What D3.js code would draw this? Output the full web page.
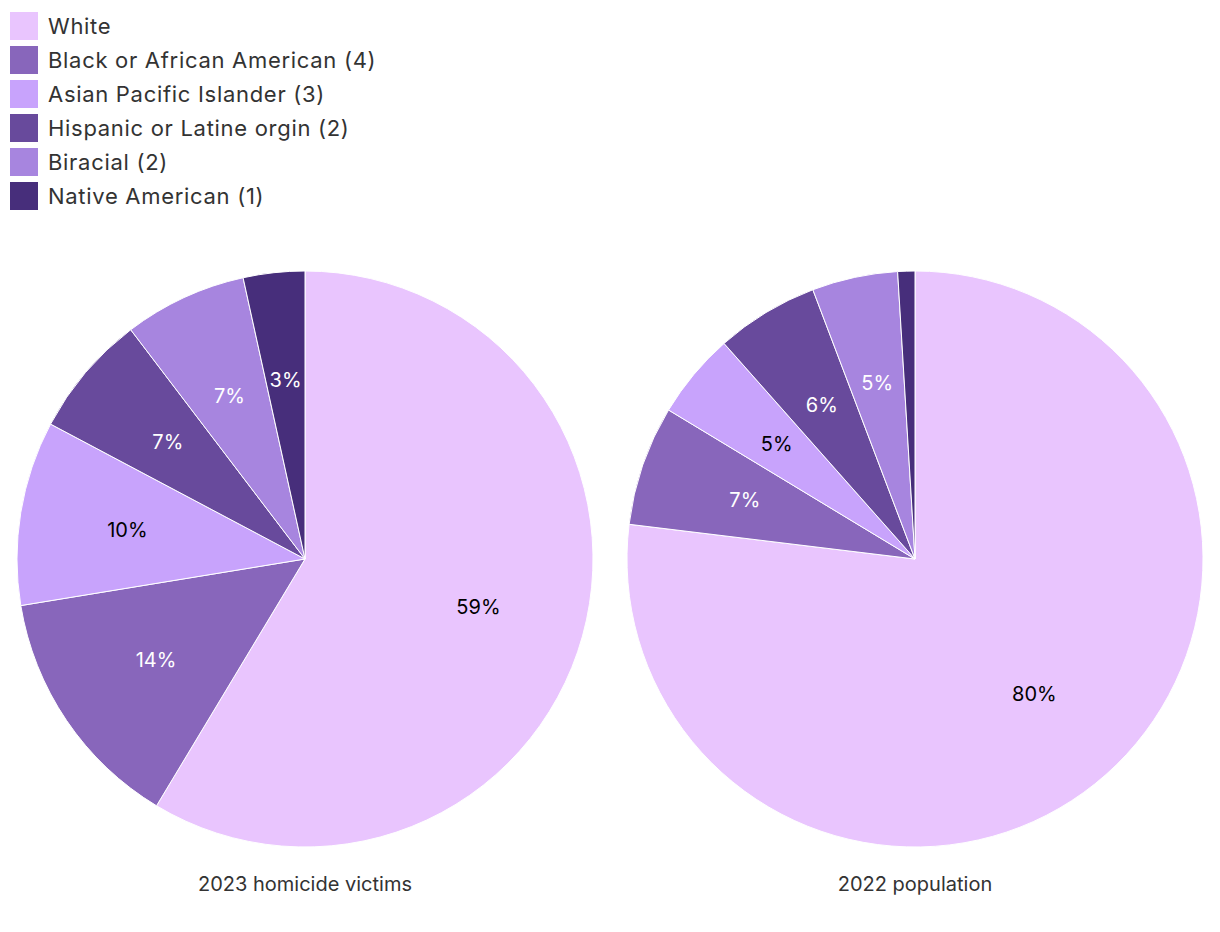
<!DOCTYPE html>
<html><head><meta charset="utf-8">
<script src="https://cdn.jsdelivr.net/npm/d3@7"></script>
<style>body{margin:0;background:#fff;} svg{display:block;}</style>
</head><body>
<svg id="chart" width="1220" height="932"></svg>
<script>
const categories = ["White","Black or African American (4)","Asian Pacific Islander (3)","Hispanic or Latine orgin (2)","Biracial (2)","Native American (1)"];
const colors = ["#e9c5fe","#8866bb","#c8a3fc","#684a9c","#a785df","#472e7b"];
const labelColors = ["#000","#fff","#000","#fff","#fff","#fff"];
// 2023 homicide victims (counts; labels show share of total)
const victims2023 = [17,4,3,2,2,1];
// 2022 population (percent values as published; labels show the value)
const population2022 = [80,7,5,6,5,1];
const pieTitles = ["2023 homicide victims","2022 population"];

const svg = d3.select("#chart");
const font = "Inter, Roboto, sans-serif";

// legend
const leg = svg.append("g");
categories.forEach((c,i)=>{
  const g = leg.append("g").attr("transform",`translate(10,${12+i*34})`);
  g.append("rect").attr("width",28).attr("height",28).attr("fill",colors[i]);
  g.append("text").attr("x",38).attr("y",22).attr("font-family",font).attr("font-size",22)
    .attr("letter-spacing","0.7px").attr("fill","#333").text(c);
});

const r = 288;
const pie = d3.pie().sort(null).value(d=>d);
const arc = d3.arc().innerRadius(0).outerRadius(r);
const labelArc = d3.arc().innerRadius(r*0.625).outerRadius(r*0.625);

const pies = [
  {data:victims2023, cx:305, fmt:(v,sum)=>Math.round(v/sum*100)+"%"},
  {data:population2022, cx:915, fmt:(v)=>v+"%"}
];
pies.forEach((p,k)=>{
  const sum = d3.sum(p.data);
  const g = svg.append("g").attr("transform",`translate(${p.cx},559)`);
  const arcs = pie(p.data);
  g.selectAll("path").data(arcs).join("path")
    .attr("d",arc).attr("fill",(d,i)=>colors[i]).attr("stroke","#fff").attr("stroke-width",1);
  g.selectAll("text").data(arcs.filter(d=>(d.endAngle-d.startAngle)>0.1)).join("text")
    .attr("transform",d=>`translate(${labelArc.centroid(d)})`)
    .attr("text-anchor","middle").attr("dy","0.35em")
    .attr("font-family",font).attr("font-size",20)
    .attr("fill",d=>labelColors[d.index]).text(d=>p.fmt(d.data,sum));
  svg.append("text").attr("x",p.cx).attr("y",891).attr("text-anchor","middle")
    .attr("font-family",font).attr("font-size",20).attr("fill","#333").text(pieTitles[k]);
});
</script>
</body></html>
